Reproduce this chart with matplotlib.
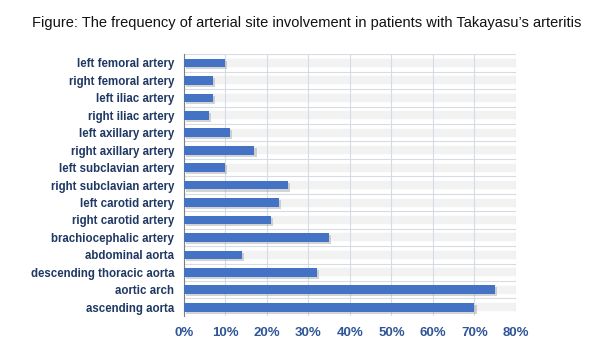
"""Horizontal bar chart: arterial site involvement in Takayasu's arteritis."""
import matplotlib
matplotlib.use("Agg")
import matplotlib.pyplot as plt
import matplotlib.ticker as ticker
import matplotlib.patheffects as pe

# --- Data (bottom to top) ---
SITES = [
    "ascending aorta",
    "aortic arch",
    "descending thoracic aorta",
    "abdominal aorta",
    "brachiocephalic artery",
    "right carotid artery",
    "left carotid artery",
    "right subclavian artery",
    "left subclavian artery",
    "right axillary artery",
    "left axillary artery",
    "right iliac artery",
    "left iliac artery",
    "right femoral artery",
    "left femoral artery",
]
FREQ = [0.70, 0.75, 0.32, 0.14, 0.35, 0.21, 0.23, 0.25, 0.10, 0.17, 0.11, 0.06, 0.07, 0.07, 0.10]

TITLE = "Figure: The frequency of arterial site involvement in patients with Takayasu\u2019s arteritis"

BAR_COLOR = "#4472C4"
GRID_COLOR = "#d6dbe6"
LABEL_COLOR = "#1F3864"
TICK_COLOR = "#2F5597"

fig = plt.figure(figsize=(6.15, 3.57), dpi=100)
ax = fig.add_axes([0.299, 0.115, 0.540, 0.733])

y = range(len(SITES))

# faint grey bands behind each row (soft shadow look)
for i in y:
    ax.axhline(i, color="#f2f2f2", linewidth=6, zorder=0)

ax.barh(
    list(y), FREQ, height=0.5, color=BAR_COLOR, zorder=3,
    path_effects=[pe.SimplePatchShadow(offset=(1.5, -1.5), shadow_rgbFace="#a0a0a0", alpha=0.45),
                  pe.Normal()],
)

ax.set_xlim(0, 0.8)
ax.set_ylim(-0.5, len(SITES) - 0.5)
ax.xaxis.set_major_locator(ticker.MultipleLocator(0.1))
ax.xaxis.set_major_formatter(ticker.PercentFormatter(1.0, decimals=0))

# grid: vertical at ticks, horizontal at category boundaries
ax.set_yticks(list(y))
ax.set_yticks([i + 0.5 for i in range(len(SITES))], minor=True)
ax.set_yticklabels(SITES, fontsize=8.3, fontweight="bold", color=LABEL_COLOR,
                   family="Liberation Sans")
ax.xaxis.grid(True, color=GRID_COLOR, linewidth=0.8, zorder=1)
ax.yaxis.grid(True, which="minor", color=GRID_COLOR, linewidth=0.8, zorder=1)
ax.set_axisbelow(True)

for lab in ax.get_xticklabels():
    lab.set_fontweight("bold")
    lab.set_fontsize(9.5)
    lab.set_color(TICK_COLOR)
    lab.set_family("Liberation Sans")

ax.tick_params(axis="both", which="both", length=0)
ax.tick_params(axis="x", pad=8)
ax.tick_params(axis="y", pad=7)

for side in ["top", "right", "bottom"]:
    ax.spines[side].set_visible(False)
ax.spines["left"].set_color("#7f7f7f")
ax.spines["left"].set_linewidth(0.8)

fig.text(0.052, 0.935, TITLE, fontsize=10.5, family="Liberation Sans", color="#111111",
         va="center", ha="left")

fig.savefig("out.png", dpi=100, facecolor="white")
